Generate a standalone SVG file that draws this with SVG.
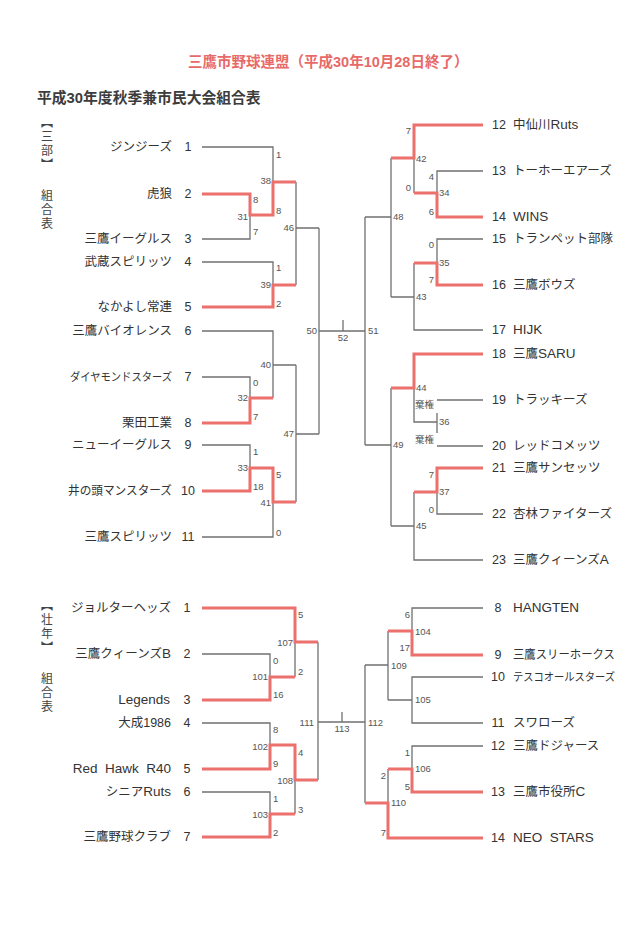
<svg xmlns="http://www.w3.org/2000/svg" width="639" height="926" viewBox="0 0 639 926">
<style>
.g{fill:none;stroke:#707070;stroke-width:1.3}
.r{fill:none;stroke:#ec716d;stroke-width:3}
text{font-family:"Liberation Sans","Noto Sans CJK JP",sans-serif}
.nm{font-size:12.5px;fill:#333}
.no{font-size:12.5px;fill:#333;text-anchor:middle}
.sc{font-size:9.5px;fill:#555}
.e{text-anchor:end}
.m{text-anchor:middle}
.lt{font-size:13.5px}
.v{font-family:"Noto Sans CJK JP",sans-serif;font-size:12px;fill:#444;writing-mode:vertical-rl;letter-spacing:2px}
.pre{white-space:pre}
</style>
<rect width="639" height="926" fill="#ffffff"/>
<g id="header">
<text x="188" y="67" font-size="14.5" font-weight="bold" fill="#e86a68">三鷹市野球連盟（平成30年10月28日終了）</text>
<text x="37" y="103" font-size="14.8" font-weight="bold" fill="#3c3c3c">平成30年度秋季兼市民大会組合表</text>
<text class="v" x="47" y="116">【三部】</text>
<text class="v" x="47" y="189">組合表</text>
<text class="v" x="47" y="599">【壮年】</text>
<text class="v" x="47" y="672">組合表</text>
</g>
<g id="connectors">
<path class="g" d="M202,147H273V182 M202,239H250V215 M296,182V285 M296,228H319 M202,262H273V285 M202,331H273V398 M202,377H250V398 M273,365H296 M202,445H250V468 M202,537H273V502 M296,365V502 M296,434H319 M319,228V434 M319,331H365 M343,320V331 M365,217V445"/>
<path class="g" d="M483,171H437V193 M414,158V193 M483,239H437V263 M414,263V330H483 M414,297H391 M391,158V297 M391,217H365 M414,388V422H437 M437,413V433 M483,400H437 M483,446H437 M437,492V514H483 M414,492V560H483 M414,526H391 M391,388V526 M391,445H365"/>
<path class="g" d="M295,642V677 M202,654H270V677 M202,723H270V745 M202,792H270V814 M295,780V814 M318,642V780 M318,722H365 M342,712V722 M365,665V803"/>
<path class="g" d="M483,608H412V631 M483,677H412V723H483 M412,700H388 M388,631V700 M388,665H365 M483,746H412V769 M388,769V803"/>
<path class="r" d="M202,194H250V215H273V182H296 M202,307H273V285H296 M202,423H250V398H273 M202,491H250V468H273V502H296"/>
<path class="r" d="M483,125H414V158H391 M483,217H437V193H414 M483,285H437V263H414 M483,354H414V388H391 M483,468H437V492H414"/>
<path class="r" d="M202,608H295V642H318 M202,700H270V677H295 M202,769H270V745H295V780H318 M202,837H270V814H295"/>
<path class="r" d="M483,655H412V631H388 M483,792H412V769H388 M365,803H388V838H483"/>
</g>
<g id="scores">
<text class="sc" x="276" y="158">1</text>
<text class="sc e" x="271" y="184">38</text>
<text class="sc" x="253" y="203">8</text>
<text class="sc e" x="248" y="220">31</text>
<text class="sc" x="253" y="235">7</text>
<text class="sc" x="276" y="214">8</text>
<text class="sc e" x="294" y="231">46</text>
<text class="sc" x="276" y="271">1</text>
<text class="sc e" x="271" y="288">39</text>
<text class="sc" x="276" y="307">2</text>
<text class="sc e" x="317" y="334">50</text>
<text class="sc m" x="343" y="341">52</text>
<text class="sc" x="368" y="334">51</text>
<text class="sc e" x="271" y="368">40</text>
<text class="sc" x="253" y="386">0</text>
<text class="sc e" x="248" y="401">32</text>
<text class="sc" x="253" y="420">7</text>
<text class="sc e" x="294" y="437">47</text>
<text class="sc" x="253" y="455">1</text>
<text class="sc e" x="248" y="471">33</text>
<text class="sc" x="253" y="490">18</text>
<text class="sc" x="276" y="478">5</text>
<text class="sc e" x="271" y="506">41</text>
<text class="sc" x="276" y="536">0</text>
<text class="sc e" x="411" y="134">7</text>
<text class="sc" x="416" y="162">42</text>
<text class="sc e" x="434" y="180">4</text>
<text class="sc e" x="411" y="191">0</text>
<text class="sc" x="439" y="196">34</text>
<text class="sc e" x="434" y="215">6</text>
<text class="sc" x="393" y="220">48</text>
<text class="sc e" x="434" y="248">0</text>
<text class="sc" x="439" y="266">35</text>
<text class="sc e" x="434" y="283">7</text>
<text class="sc" x="416" y="300">43</text>
<text class="sc" x="416" y="391">44</text>
<text class="sc e" x="434" y="408">棄権</text>
<text class="sc" x="439" y="425">36</text>
<text class="sc e" x="434" y="443">棄権</text>
<text class="sc" x="393" y="448">49</text>
<text class="sc e" x="434" y="478">7</text>
<text class="sc" x="439" y="495">37</text>
<text class="sc e" x="434" y="513">0</text>
<text class="sc" x="416" y="529">45</text>
<text class="sc" x="298" y="618">5</text>
<text class="sc e" x="293" y="646">107</text>
<text class="sc" x="273" y="664">0</text>
<text class="sc e" x="268" y="680">101</text>
<text class="sc" x="298" y="675">2</text>
<text class="sc" x="273" y="698">16</text>
<text class="sc e" x="314" y="726">111</text>
<text class="sc m" x="342" y="732">113</text>
<text class="sc" x="368" y="726">112</text>
<text class="sc" x="273" y="733">8</text>
<text class="sc e" x="268" y="750">102</text>
<text class="sc" x="298" y="756">4</text>
<text class="sc" x="273" y="767">9</text>
<text class="sc e" x="293" y="784">108</text>
<text class="sc" x="273" y="802">1</text>
<text class="sc" x="298" y="813">3</text>
<text class="sc e" x="268" y="818">103</text>
<text class="sc" x="273" y="836">2</text>
<text class="sc e" x="410" y="618">6</text>
<text class="sc" x="415" y="635">104</text>
<text class="sc e" x="410" y="651">17</text>
<text class="sc" x="391" y="669">109</text>
<text class="sc" x="415" y="703">105</text>
<text class="sc e" x="410" y="756">1</text>
<text class="sc" x="415" y="772">106</text>
<text class="sc e" x="386" y="779">2</text>
<text class="sc e" x="410" y="790">5</text>
<text class="sc" x="391" y="806">110</text>
<text class="sc e" x="386" y="836">7</text>
</g>
<g id="team-s1"><text class="nm e" x="172" y="151">ジンジーズ</text><text class="no" x="188" y="151">1</text></g>
<g id="team-s2"><text class="nm e" x="172" y="198">虎狼</text><text class="no" x="188" y="198">2</text></g>
<g id="team-s3"><text class="nm e" x="172" y="243">三鷹イーグルス</text><text class="no" x="188" y="243">3</text></g>
<g id="team-s4"><text class="nm e" x="172" y="266">武蔵スピリッツ</text><text class="no" x="188" y="266">4</text></g>
<g id="team-s5"><text class="nm e" x="172" y="311">なかよし常連</text><text class="no" x="188" y="311">5</text></g>
<g id="team-s6"><text class="nm e" x="172" y="335">三鷹バイオレンス</text><text class="no" x="188" y="335">6</text></g>
<g id="team-s7"><text class="nm e" x="172" y="381" style="font-size:11.5px" textLength="102" lengthAdjust="spacingAndGlyphs">ダイヤモンドスターズ</text><text class="no" x="188" y="381">7</text></g>
<g id="team-s8"><text class="nm e" x="172" y="427">栗田工業</text><text class="no" x="188" y="427">8</text></g>
<g id="team-s9"><text class="nm e" x="172" y="449">ニューイーグルス</text><text class="no" x="188" y="449">9</text></g>
<g id="team-s10"><text class="nm e" x="172" y="495" style="font-size:12px" textLength="104" lengthAdjust="spacingAndGlyphs">井の頭マンスターズ</text><text class="no" x="188" y="495">10</text></g>
<g id="team-s11"><text class="nm e" x="172" y="541">三鷹スピリッツ</text><text class="no" x="188" y="541">11</text></g>
<g id="team-s12"><text class="no" x="499" y="129">12</text><text class="nm" x="513" y="129">中仙川<tspan class="lt">Ruts</tspan></text></g>
<g id="team-s13"><text class="no" x="499" y="175">13</text><text class="nm" x="513" y="175">トーホーエアーズ</text></g>
<g id="team-s14"><text class="no" x="499" y="221">14</text><text class="nm lt" x="513" y="221">WINS</text></g>
<g id="team-s15"><text class="no" x="499" y="243">15</text><text class="nm" x="513" y="243">トランペット部隊</text></g>
<g id="team-s16"><text class="no" x="499" y="289">16</text><text class="nm" x="513" y="289">三鷹ボウズ</text></g>
<g id="team-s17"><text class="no" x="499" y="334">17</text><text class="nm lt" x="513" y="334">HIJK</text></g>
<g id="team-s18"><text class="no" x="499" y="358">18</text><text class="nm" x="513" y="358">三鷹<tspan class="lt">SARU</tspan></text></g>
<g id="team-s19"><text class="no" x="499" y="404">19</text><text class="nm" x="513" y="404">トラッキーズ</text></g>
<g id="team-s20"><text class="no" x="499" y="450">20</text><text class="nm" x="513" y="450">レッドコメッツ</text></g>
<g id="team-s21"><text class="no" x="499" y="472">21</text><text class="nm" x="513" y="472">三鷹サンセッツ</text></g>
<g id="team-s22"><text class="no" x="499" y="518">22</text><text class="nm" x="513" y="518">杏林ファイターズ</text></g>
<g id="team-s23"><text class="no" x="499" y="564">23</text><text class="nm" x="513" y="564">三鷹クィーンズ<tspan class="lt">A</tspan></text></g>
<g id="team-m1"><text class="nm e" x="171" y="612">ジョルターヘッズ</text><text class="no" x="187" y="612">1</text></g>
<g id="team-m2"><text class="nm e" x="171" y="658">三鷹クィーンズ<tspan class="lt">B</tspan></text><text class="no" x="187" y="658">2</text></g>
<g id="team-m3"><text class="nm e lt" x="170" y="704">Legends</text><text class="no" x="187" y="704">3</text></g>
<g id="team-m4"><text class="nm e" x="171" y="727">大成1986</text><text class="no" x="187" y="727">4</text></g>
<g id="team-m5"><text class="nm e pre lt" x="171" y="773">Red  Hawk  R40</text><text class="no" x="187" y="773">5</text></g>
<g id="team-m6"><text class="nm e" x="171" y="796">シニア<tspan class="lt">Ruts</tspan></text><text class="no" x="187" y="796">6</text></g>
<g id="team-m7"><text class="nm e" x="171" y="841">三鷹野球クラブ</text><text class="no" x="187" y="841">7</text></g>
<g id="team-m8"><text class="no" x="498" y="612">8</text><text class="nm lt" x="513" y="612">HANGTEN</text></g>
<g id="team-m9"><text class="no" x="498" y="659">9</text><text class="nm" x="513" y="659" style="font-size:12px" textLength="102" lengthAdjust="spacingAndGlyphs">三鷹スリーホークス</text></g>
<g id="team-m10"><text class="no" x="498" y="681">10</text><text class="nm" x="513" y="681" style="font-size:11.5px" textLength="102" lengthAdjust="spacingAndGlyphs">テスコオールスターズ</text></g>
<g id="team-m11"><text class="no" x="498" y="727">11</text><text class="nm" x="513" y="727">スワローズ</text></g>
<g id="team-m12"><text class="no" x="498" y="750">12</text><text class="nm" x="513" y="750">三鷹ドジャース</text></g>
<g id="team-m13"><text class="no" x="498" y="796">13</text><text class="nm" x="513" y="796">三鷹市役所<tspan class="lt">C</tspan></text></g>
<g id="team-m14"><text class="no" x="498" y="842">14</text><text class="nm pre lt" x="513" y="842">NEO  STARS</text></g>
</svg>
